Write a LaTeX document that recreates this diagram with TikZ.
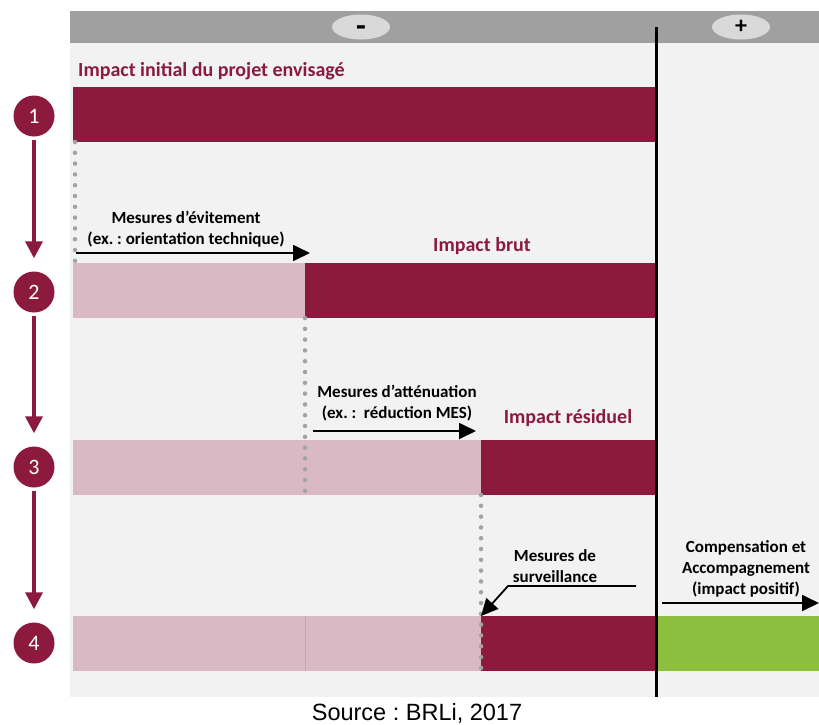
\documentclass[tikz,border=0pt]{standalone}
\usepackage{fontspec}
\setmainfont{Carlito}
\newfontfamily\srcfont{Liberation Sans}
\usetikzlibrary{arrows.meta, positioning, shapes.geometric}
\frenchspacing

\definecolor{impact}{HTML}{8B1A3E}
\definecolor{attenue}{HTML}{D9BAC4}
\definecolor{compens}{HTML}{8DBF3E}
\definecolor{panel}{HTML}{F2F2F2}
\definecolor{header}{HTML}{A0A0A0}
\definecolor{pill}{HTML}{D9D9D9}
\definecolor{dotgray}{HTML}{A3A3A3}

\begin{document}
\begin{tikzpicture}[x=1pt,y=-1pt,>={Triangle[length=17pt,width=16pt]},
  step circle/.style={circle,fill=impact,minimum size=41pt,inner sep=0pt,text=white,font=\fontsize{22}{22}\selectfont},
  bar/.style={anchor=north west,minimum height=55pt,inner sep=0pt,outer sep=0pt},
  pill node/.style={ellipse,fill=pill,minimum width=58pt,minimum height=25pt,inner sep=0pt,font=\bfseries\fontsize{24}{24}\selectfont},
  title node/.style={inner sep=0pt,text=impact,font=\bfseries\fontsize{20}{24}\selectfont},
  mesure node/.style={inner sep=0pt,align=center,font=\bfseries\fontsize{17}{21}\selectfont},
  step arrow/.style={->,draw=impact,line width=3.5pt,shorten <=3pt,shorten >=13pt,>={Triangle[length=17pt,width=17pt]}},
  mesure arrow/.style={->,line width=1.8pt},
  dots/.style={draw=dotgray,line width=4.5pt,line cap=round,dash pattern=on 0pt off 10.8pt}]
  \useasboundingbox (0,0) rectangle (819,724);

  % fond et bandeau
  \fill[panel] (70,43) rectangle (819,697);
  \fill[header] (70,11) rectangle (819,43);
  \node[pill node,font=\bfseries\fontsize{32}{32}\selectfont] (moins) at (361,27) {\raisebox{-9.5pt}[0pt][0pt]{-}};
  \node[pill node] (plus) at (741,27) {+};

  % barres
  \node[bar,fill=impact,minimum width=582pt] (b1) at (73,87) {};
  \node[bar,fill=attenue,minimum width=232pt] (b2a) at (73,263) {};
  \node[bar,fill=impact,minimum width=350pt] (b2b) at (305,263) {};
  \node[bar,fill=attenue,minimum width=408pt] (b3a) at (73,440) {};
  \node[bar,fill=impact,minimum width=174pt] (b3b) at (481,440) {};
  \node[bar,fill=attenue,minimum width=232pt] (b4a) at (73,616) {};
  \node[bar,fill=attenue,minimum width=176pt] (b4b) at (305,616) {};
  \node[bar,fill=impact,minimum width=174pt] (b4c) at (481,616) {};
  \node[bar,fill=compens,minimum width=164pt] (b4d) at (655,616) {};
  \draw[attenue!85!impact,line width=0.6pt] (b4b.north west) -- (b4b.south west);

  % limite entre impacts negatifs et positifs
  \coordinate (haut) at (656,27);
  \coordinate (bas) at (656,697);
  \draw[line width=3pt] (haut) -- (bas);

  % pointilles
  \draw[dots] ([xshift=2pt]b1.south west) -- ([xshift=2pt]b2a.north west);
  \draw[dots] (b2b.south west) -- (b2b.south west |- b3b.south);
  \draw[dots] (b3b.south west) -- (b4c.south west);

  % etapes
  \node[step circle] (c1) at (34,116) {1};
  \node[step circle] (c2) at (34,292) {2};
  \node[step circle] (c3) at (34,467) {3};
  \node[step circle] (c4) at (34,643) {4};
  \draw[step arrow] (c1) -- (c2);
  \draw[step arrow] (c2) -- (c3);
  \draw[step arrow] (c3) -- (c4);

  % titres
  \node[title node,anchor=base west] (t1) at (78,76) {Impact initial du projet envisagé};
  \node[title node,anchor=base] (t2) at (482,251) {Impact brut};
  \node[title node,anchor=base] (t3) at (568,423) {Impact résiduel};

  % mesures
  \node[mesure node,anchor=base] (m1) at (186,244) {Mesures d’évitement\\(ex. : orientation technique)};
  \coordinate (m1a) at (76,253);
  \coordinate (m1b) at (310,253);
  \draw[mesure arrow] (m1a) -- (m1b);

  \node[mesure node,anchor=base] (m2) at (397,418) {Mesures d’atténuation\\(ex. :\ \ réduction MES)};
  \coordinate (m2a) at (313,431);
  \coordinate (m2b) at (476,431);
  \draw[mesure arrow] (m2a) -- (m2b);

  \node[mesure node,anchor=base] (m3) at (555,582) {Mesures de\\surveillance};
  \coordinate (m3a) at (636,586);
  \coordinate (m3b) at (508,586);
  \draw[mesure arrow] (m3a) -- (m3b) -- (b4c.north west);

  \node[mesure node,anchor=base] (m4) at (746,594) {Compensation et\\Accompagnement\\(impact positif)};
  \coordinate (m4a) at (662,603);
  \coordinate (m4b) at (819,603);
  \draw[mesure arrow] (m4a) -- (m4b);

  % source
  \node[inner sep=0pt,anchor=base,font=\srcfont\fontsize{23.5}{24}\selectfont] (src) at (417,720) {Source : BRLi, 2017};
\end{tikzpicture}
\end{document}
